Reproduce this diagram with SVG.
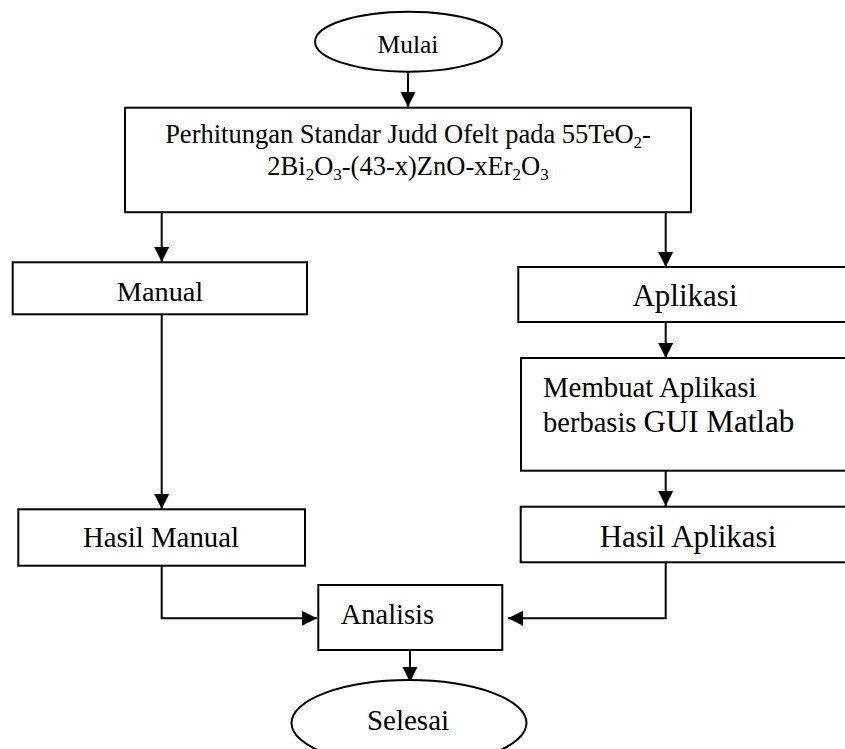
<svg xmlns="http://www.w3.org/2000/svg" width="845" height="749" viewBox="0 0 845 749">
<style>
.box{fill:#fff;stroke:#000;stroke-width:2}
.ln{fill:none;stroke:#000;stroke-width:2}
text{font-family:"Liberation Serif","Times New Roman",serif;fill:#000}
.c{text-anchor:middle}
</style>
<defs>
<marker id="ah" markerUnits="userSpaceOnUse" markerWidth="16" markerHeight="16" refX="15" refY="7.5" orient="auto">
<path d="M0,0 L15,7.5 L0,15 z" fill="#000"/>
</marker>
</defs>
<rect width="845" height="749" fill="#fff"/>
<g id="connectors">
<line class="ln" x1="408" y1="72" x2="408" y2="107" marker-end="url(#ah)"/>
<line class="ln" x1="161.7" y1="212" x2="161.7" y2="262" marker-end="url(#ah)"/>
<line class="ln" x1="665.7" y1="212" x2="665.7" y2="267" marker-end="url(#ah)"/>
<line class="ln" x1="161.7" y1="314" x2="161.7" y2="509" marker-end="url(#ah)"/>
<line class="ln" x1="665.7" y1="322" x2="665.7" y2="358" marker-end="url(#ah)"/>
<line class="ln" x1="665.7" y1="470.7" x2="665.7" y2="506" marker-end="url(#ah)"/>
<polyline class="ln" points="161.7,566 161.7,618.3 317,618.3" marker-end="url(#ah)"/>
<polyline class="ln" points="665.7,562 665.7,618.3 508,618.3" marker-end="url(#ah)"/>
<line class="ln" x1="410" y1="650" x2="410" y2="682" marker-end="url(#ah)"/>
</g>
<g id="mulai">
<ellipse class="box" cx="408.5" cy="41.7" rx="93.5" ry="30"/>
<text class="c" x="408" y="52.5" font-size="25.5">Mulai</text>
</g>
<g id="perhitungan">
<rect class="box" x="125" y="107.7" width="566" height="104.5"/>
<text class="c" x="408" y="143" font-size="26.5">Perhitungan Standar Judd Ofelt pada 55TeO<tspan font-size="17" dy="5">2</tspan><tspan dy="-5">-</tspan></text>
<text class="c" x="408" y="175" font-size="26.5">2Bi<tspan font-size="17" dy="5">2</tspan><tspan dy="-5">O</tspan><tspan font-size="17" dy="5">3</tspan><tspan dy="-5">-(43-x)ZnO-xEr</tspan><tspan font-size="17" dy="5">2</tspan><tspan dy="-5">O</tspan><tspan font-size="17" dy="5">3</tspan></text>
</g>
<g id="manual">
<rect class="box" x="12.7" y="262.3" width="294.3" height="52"/>
<text class="c" x="160" y="300.7" font-size="28.3">Manual</text>
</g>
<g id="aplikasi">
<rect class="box" x="518.3" y="267" width="340" height="55"/>
<text class="c" x="685" y="306" font-size="31">Aplikasi</text>
</g>
<g id="membuat">
<rect class="box" x="521" y="358" width="340" height="112.7"/>
<text x="543" y="397" font-size="28.8">Membuat Aplikasi</text>
<text x="543" y="432" font-size="28.5">berbasis <tspan font-size="31">GUI Matlab</tspan></text>
</g>
<g id="hasil-manual">
<rect class="box" x="18.3" y="509.3" width="286.7" height="56.4"/>
<text class="c" x="161" y="547" font-size="28.8">Hasil Manual</text>
</g>
<g id="hasil-aplikasi">
<rect class="box" x="520.7" y="506.7" width="340" height="55.6"/>
<text class="c" x="688" y="547" font-size="31">Hasil Aplikasi</text>
</g>
<g id="analisis">
<rect class="box" x="318.3" y="585" width="184" height="65"/>
<text x="340.7" y="624" font-size="28.5">Analisis</text>
</g>
<g id="selesai">
<ellipse class="box" cx="409" cy="723" rx="117.5" ry="43"/>
<text class="c" x="408" y="730" font-size="29">Selesai</text>
</g>
</svg>
